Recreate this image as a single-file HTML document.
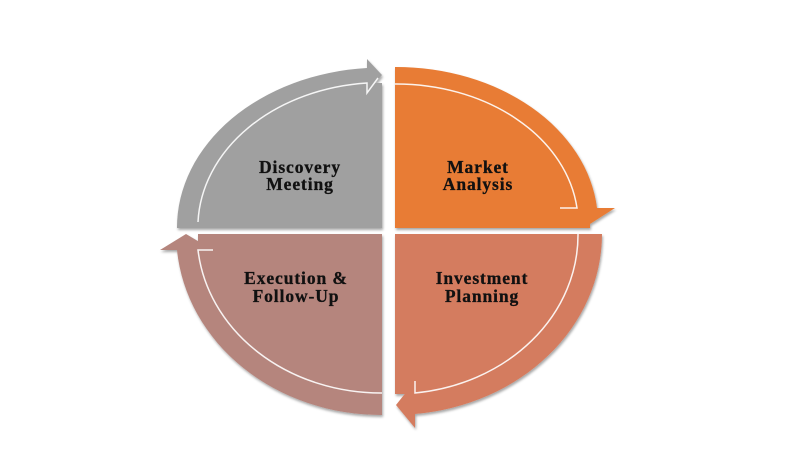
<!DOCTYPE html>
<html><head><meta charset="utf-8"><style>
html,body{margin:0;padding:0;background:#fff;width:792px;height:475px;overflow:hidden}
svg{display:block}
text{font-family:"Liberation Serif",serif;font-weight:bold;font-size:17.5px;letter-spacing:0.9px;fill:#111;stroke:#111;stroke-width:0.3;text-anchor:middle}
</style></head><body>
<svg width="792" height="475" viewBox="0 0 792 475">
<defs>
<filter id="sh" x="-10%" y="-10%" width="120%" height="120%"><feDropShadow dx="1" dy="2" stdDeviation="1.2" flood-color="#000" flood-opacity="0.35"/></filter>
</defs>
<g filter="url(#sh)">
<path d="M382,228 L177,228 A205,160 0 0 1 367,68 L367,59 L382,75 L367,93 L367,83 L382,83 Z" fill="#a0a0a0"/>
<path d="M395,228 L395,67 A202,156 0 0 1 597,208 L615,208 L590,224 L590,228 Z" fill="#e87c34"/>
<path d="M395,234 L602,234 A207,181 0 0 1 415,414 L415,428 L396,405 L415,381 L415,394 L395,394 Z" fill="#d47c5f"/>
<path d="M382,234 L382,415 A205,181 0 0 1 177,250 L160,250 L186,234 L213,250 L198,250 L198,234 Z" fill="#b5857d"/>
</g>
<g fill="none" stroke="#fff" stroke-width="1.5" opacity="0.9">
<path d="M198,222 A184,145 0 0 1 367,83 L367,93 L378,78"/>
<path d="M395,84 A182,140 0 0 1 577,208 L560,208"/>
<path d="M578,234 A183,159 0 0 1 415,393 L415,381"/>
<path d="M382,393 A184,159 0 0 1 198,250 L213,250"/>
</g>
<text x="300" y="173">Discovery</text>
<text x="300" y="190">Meeting</text>
<text x="478" y="173">Market</text>
<text x="478" y="190">Analysis</text>
<text x="296" y="284">Execution &amp;</text>
<text x="296" y="302">Follow-Up</text>
<text x="482" y="284">Investment</text>
<text x="482" y="302">Planning</text>
</svg>
</body></html>
